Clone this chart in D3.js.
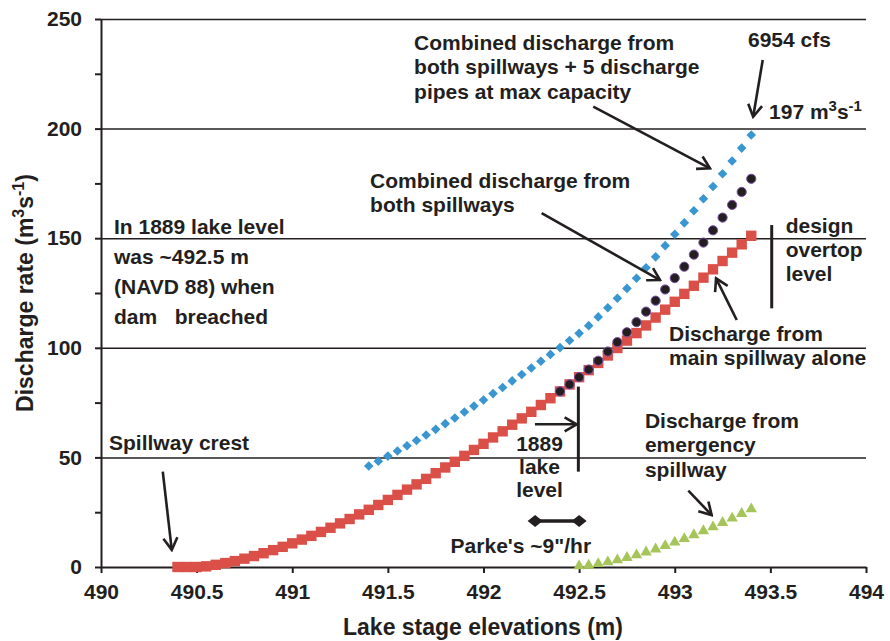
<!DOCTYPE html>
<html lang="en">

<head>
    <meta charset="UTF-8">
    <title>Lake discharge rates</title>
    <script src="https://d3js.org/d3.v7.min.js"></script>
    <style>
        body {
            margin: 0;
            background: #fff;
        }
        text {
            font-family: "Liberation Sans", Arial, sans-serif;
            font-weight: bold;
            fill: #231f20;
        }
    </style>
</head>

<body>
    <svg id="chart" width="890" height="641"></svg>
    <script>
        // lake stage (m), 0.05 m steps
        const elevations = [490.4, 490.45, 490.5, 490.55, 490.6, 490.65, 490.7, 490.75, 490.8, 490.85,
            490.9, 490.95, 491, 491.05, 491.1, 491.15, 491.2, 491.25, 491.3, 491.35,
            491.4, 491.45, 491.5, 491.55, 491.6, 491.65, 491.7, 491.75, 491.8, 491.85,
            491.9, 491.95, 492, 492.05, 492.1, 492.15, 492.2, 492.25, 492.3, 492.35,
            492.4, 492.45, 492.5, 492.55, 492.6, 492.65, 492.7, 492.75, 492.8, 492.85,
            492.9, 492.95, 493, 493.05, 493.1, 493.15, 493.2, 493.25, 493.3, 493.35, 493.4];

        // discharge (m3/s)
        const mainSpillway = [0, 0, 0, 0.3, 1.0, 1.8, 2.7, 3.8, 5.0, 6.3,
            7.7, 9.2, 10.8, 12.5, 14.2, 16.0, 17.9, 19.9, 21.9, 24.0,
            26.1, 28.3, 30.6, 32.9, 35.3, 37.7, 40.2, 42.8, 45.4, 48.0,
            50.7, 53.4, 56.2, 59.1, 61.9, 64.9, 67.8, 70.8, 73.9, 77.0,
            80.1, 83.3, 86.6, 89.8, 93.1, 96.5, 99.9, 103.3, 106.7, 110.2,
            113.8, 117.4, 121.0, 124.6, 128.3, 132.0, 135.8, 139.6, 143.4, 147.2, 151.1];

        const bothStart = 492.4;
        const bothSpillways = [80.1, 83.3, 86.6, 90.1, 94.1, 98.3, 102.6, 107.1, 111.7, 116.5,
            121.5, 126.6, 131.8, 137.0, 142.5, 148.0, 153.6, 159.4, 165.2, 171.1, 177.1];

        const pipesStart = 491.4;
        const withPipes = [46.1, 48.3, 50.6, 52.9, 55.3, 57.7, 60.2, 62.8, 65.4, 68.0,
            70.7, 73.4, 76.2, 79.1, 81.9, 84.9, 87.8, 90.8, 93.9, 97.0,
            100.1, 103.3, 106.6, 110.1, 114.1, 118.3, 122.6, 127.1, 131.7, 136.5,
            141.5, 146.6, 151.8, 157.0, 162.5, 168.0, 173.6, 179.4, 185.2, 191.1, 197.1];

        const emergencyStart = 492.5;
        const emergencySpillway = [0, 0.3, 1.0, 1.8, 2.7, 3.8, 5.0, 6.3, 7.7, 9.2,
            10.8, 12.4, 14.2, 16.0, 17.8, 19.8, 21.8, 23.9, 26.0];

        const parkeElev = [492.27, 492.5];
        const parkeQ = [21, 21];

        const xTicks = [490, 490.5, 491, 491.5, 492, 492.5, 493, 493.5, 494];
        const yTicks = [0, 25, 50, 75, 100, 125, 150, 175, 200, 225, 250];
        const gridValues = [50, 100, 150, 200, 250];

        const ink = "#231f20";

        const svg = d3.select("#chart");
        const width = +svg.attr("width");
        const height = +svg.attr("height");
        const margin = { top: 19, right: 24, bottom: 74, left: 101 };
        const chartWidth = width - margin.left - margin.right;
        const chartHeight = height - margin.top - margin.bottom;
        const chartGroup = svg.append("g")
            .attr("transform", `translate(${margin.left},${margin.top})`);

        const xScale = d3.scaleLinear().domain([490, 494]).range([0, chartWidth]);
        const yScale = d3.scaleLinear().domain([0, 250]).range([chartHeight, 0]);

        function series(start, values) {
            const i0 = elevations.indexOf(start);
            return values.map((v, i) => ({ e: elevations[i0 + i], q: v }));
        }

        // gridlines
        chartGroup.append("g")
            .call(d3.axisLeft(yScale).tickValues(gridValues).tickSize(-chartWidth).tickFormat(""))
            .call(s => s.select(".domain").remove())
            .selectAll("line")
            .attr("stroke", ink)
            .attr("stroke-width", 1.5);

        // axes
        const yAxis = chartGroup.append("g")
            .call(d3.axisLeft(yScale).tickValues(yTicks).tickSize(6).tickSizeOuter(0).tickPadding(13)
                .tickFormat(d => d % 50 ? "" : d));
        const xAxis = chartGroup.append("g")
            .attr("transform", `translate(0,${chartHeight})`)
            .call(d3.axisBottom(xScale).tickValues(xTicks).tickSize(6).tickSizeOuter(0).tickPadding(11.5)
                .tickFormat(d => d));

        [xAxis, yAxis].forEach(a => {
            a.attr("font-size", null).attr("font-family", null);
            a.select(".domain").attr("stroke", ink).attr("stroke-width", 2);
            a.selectAll(".tick line").attr("stroke", ink).attr("stroke-width", 2);
            a.selectAll(".tick text").attr("fill", ink).style("font-size", "21px");
        });

        // main spillway: red squares
        chartGroup.selectAll(".main")
            .data(series(490.4, mainSpillway))
            .enter().append("path")
            .attr("class", "main")
            .attr("d", d3.symbol(d3.symbolSquare, 108))
            .attr("transform", d => `translate(${xScale(d.e)},${yScale(d.q)})`)
            .attr("fill", "#da5048");

        // both spillways + pipes: blue diamonds
        chartGroup.selectAll(".pipes")
            .data(series(pipesStart, withPipes))
            .enter().append("path")
            .attr("class", "pipes")
            .attr("d", d3.symbol(d3.symbolSquare, 46))
            .attr("transform", d => `translate(${xScale(d.e)},${yScale(d.q)}) rotate(45)`)
            .attr("fill", "#3a96d0");

        // emergency spillway: green triangles
        chartGroup.selectAll(".emergency")
            .data(series(emergencyStart, emergencySpillway))
            .enter().append("path")
            .attr("class", "emergency")
            .attr("d", d3.symbol(d3.symbolTriangle, 56))
            .attr("transform", d => `translate(${xScale(d.e)},${yScale(d.q) - 1})`)
            .attr("fill", "#a5c55a");

        // both spillways: black dots
        chartGroup.selectAll(".both")
            .data(series(bothStart, bothSpillways))
            .enter().append("circle")
            .attr("class", "both")
            .attr("cx", d => xScale(d.e))
            .attr("cy", d => yScale(d.q))
            .attr("r", 4.6)
            .attr("fill", ink)
            .attr("stroke", "#7a4fa3")
            .attr("stroke-width", 1);

        // Parke's rate bar
        const parke = parkeElev.map((e, i) => ({ e: e, q: parkeQ[i] }));
        chartGroup.append("path")
            .datum(parke)
            .attr("d", d3.line().x(d => xScale(d.e)).y(d => yScale(d.q)))
            .attr("stroke", ink)
            .attr("stroke-width", 3.5)
            .attr("fill", "none");
        chartGroup.selectAll(".parke")
            .data(parke)
            .enter().append("path")
            .attr("class", "parke")
            .attr("d", "M-7.5,0L0,-6L7.5,0L0,6Z")
            .attr("transform", d => `translate(${xScale(d.e)},${yScale(d.q)})`)
            .attr("fill", ink);

        // arrows and marker lines
        svg.append("defs").append("marker")
            .attr("id", "head")
            .attr("markerUnits", "userSpaceOnUse")
            .attr("viewBox", "-14 -10 16 20")
            .attr("markerWidth", 16)
            .attr("markerHeight", 20)
            .attr("refX", 0)
            .attr("refY", 0)
            .attr("orient", "auto")
            .append("path")
            .attr("d", "M-12,-7L0,0L-12,7")
            .attr("fill", "none")
            .attr("stroke", ink)
            .attr("stroke-width", 2.6);

        const arrows = [
            [493.46, 231.3, 493.41, 205.4],
            [492.574, 210.0, 493.184, 181.9],
            [492.304, 161.4, 492.923, 130.9],
            [493.324, 112.7, 493.216, 131.7],
            [490.323, 43.5, 490.37, 7.8],
            [493.071, 34.8, 493.193, 23.7],
            [492.269, 65.1, 492.487, 65.1]
        ];
        chartGroup.selectAll(".arrow")
            .data(arrows)
            .enter().append("line")
            .attr("class", "arrow")
            .attr("x1", d => xScale(d[0]))
            .attr("y1", d => yScale(d[1]))
            .attr("x2", d => xScale(d[2]))
            .attr("y2", d => yScale(d[3]))
            .attr("stroke", ink)
            .attr("stroke-width", 2.6)
            .attr("marker-end", "url(#head)");

        const bars = [
            [492.496, 82.3, 43.5],
            [493.507, 156, 118]
        ];
        chartGroup.selectAll(".bar")
            .data(bars)
            .enter().append("line")
            .attr("class", "bar")
            .attr("x1", d => xScale(d[0]))
            .attr("x2", d => xScale(d[0]))
            .attr("y1", d => yScale(d[1]))
            .attr("y2", d => yScale(d[2]))
            .attr("stroke", ink)
            .attr("stroke-width", 3);

        // text notes
        const notes = [
            { e: 491.637, q: 235.9, lh: 24.5, lines: ["Combined discharge from", "both spillways + 5 discharge", "pipes at max capacity"] },
            { e: 493.383, q: 237.2, lh: 24, lines: ["6954 cfs"] },
            { e: 491.407, q: 172.7, lh: 24, lines: ["Combined discharge from", "both spillways"] },
            { e: 490.068, q: 152.1, lh: 30, lines: ["In 1889 lake level", "was ~492.5 m", "(NAVD 88) when", "dam   breached"] },
            { e: 493.58, q: 152.6, lh: 24.3, lines: ["design", "overtop", "level"] },
            { e: 492.97, q: 102.9, lh: 24, lines: ["Discharge from", "main spillway alone"] },
            { e: 490.042, q: 53.4, lh: 24, lines: ["Spillway crest"] },
            { e: 492.293, q: 52.9, lh: 23.2, lines: ["1889", "lake", "level"], anchor: "middle" },
            { e: 491.828, q: 6.4, lh: 24, lines: [`Parke's ~9"/hr`] },
            { e: 492.844, q: 63.3, lh: 24.2, lines: ["Discharge from", "emergency", "spillway"] }
        ];
        notes.forEach(n => {
            const t = chartGroup.append("text")
                .attr("x", xScale(n.e))
                .attr("y", yScale(n.q))
                .attr("text-anchor", n.anchor || "start")
                .style("font-size", "21px")
                .style("white-space", "pre");
            n.lines.forEach((line, i) => {
                t.append("tspan")
                    .attr("x", xScale(n.e))
                    .attr("dy", i === 0 ? 0 : n.lh)
                    .text(line);
            });
        });

        // text with superscripts
        function supText(sel, parts, supSize, lift) {
            parts.forEach(p => {
                const sp = sel.append("tspan").text(p[0]);
                if (p[1]) {
                    sp.style("font-size", supSize + "px").attr("dy", -lift);
                } else if (p[2]) {
                    sp.attr("dy", lift);
                }
            });
        }

        const peak = chartGroup.append("text")
            .attr("x", xScale(493.493))
            .attr("y", yScale(204.2))
            .style("font-size", "21px");
        supText(peak, [["197 m"], ["3", true], ["s", false, true], ["-1", true]], 15, 8);

        svg.append("text")
            .attr("text-anchor", "middle")
            .attr("x", margin.left + chartWidth / 2 - 0.5)
            .attr("y", 635)
            .style("font-size", "23px")
            .text("Lake stage elevations (m)");

        const yTitle = svg.append("text")
            .attr("text-anchor", "middle")
            .attr("transform", "translate(33,293) rotate(-90)")
            .style("font-size", "23px");
        supText(yTitle, [["Discharge rate (m"], ["3", true], ["s", false, true], ["-1", true], [")", false, true]], 16, 9);
    </script>
</body>
</html>
